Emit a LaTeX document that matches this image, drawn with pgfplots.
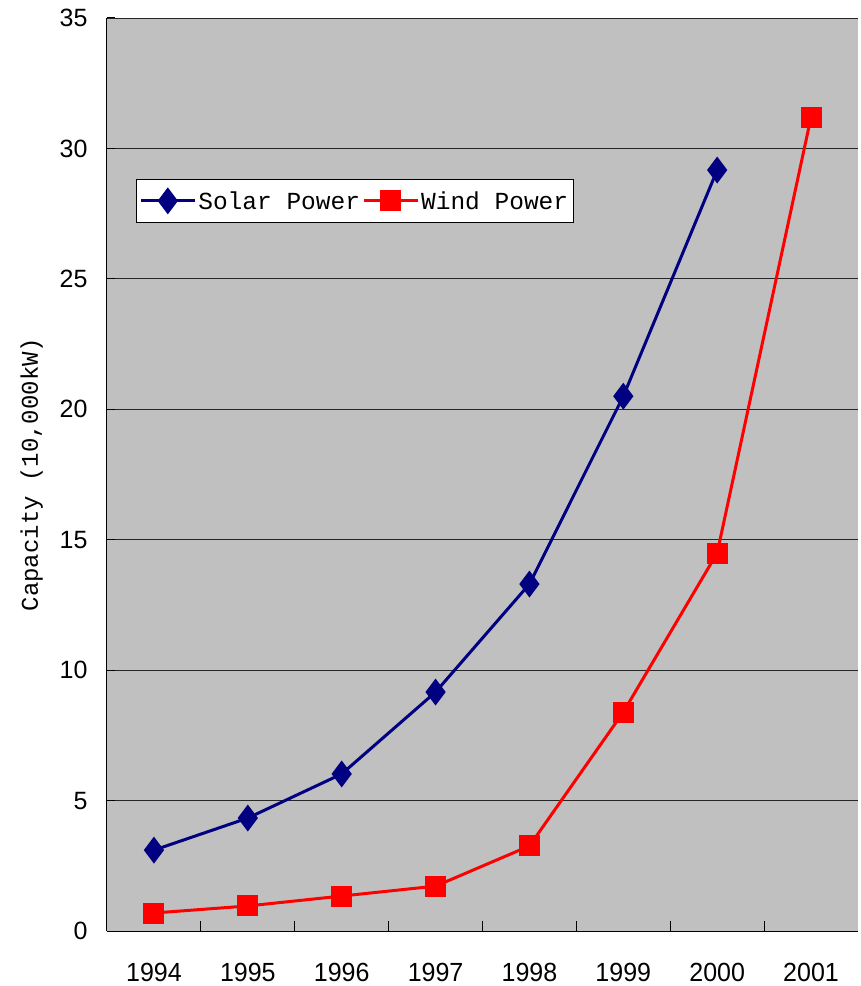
\documentclass[border=0pt]{standalone}
\usepackage{pgfplots}
\pgfplotsset{compat=1.18}
\usepackage{fontspec}
\setmainfont{Liberation Sans}
\newfontfamily\monofont{Liberation Mono}
\definecolor{solar}{RGB}{0,0,128}
\definecolor{wind}{RGB}{255,0,0}
\definecolor{plotbg}{RGB}{192,192,192}
\begin{document}
\begin{tikzpicture}
\useasboundingbox (-107pt,-55pt) rectangle (754pt,931pt);
\begin{axis}[
    at={(0,0)}, anchor=south west,
    scale only axis,
    width=751pt, height=913pt,
    axis background/.style={fill=plotbg},
    axis x line*=bottom, axis y line*=left,
    axis line style={line width=1pt},
    xmin=-0.5, xmax=7.5,
    ymin=0, ymax=35,
    xtick={0,...,7},
    xticklabels={1994,1995,1996,1997,1998,1999,2000,2001},
    major x tick style={draw=none},
    minor xtick={0.5,1.5,...,6.5},
    minor tick length=10pt,
    minor x tick style={line width=0.8pt, black},
    ytick={0,5,...,35},
    ymajorgrids,
    major grid style={line width=0.8pt, black!85},
    major tick length=8pt,
    tick align=inside,
    y tick style={line width=1pt, black},
    tick label style={font=\fontsize{25}{28}\selectfont},
    xticklabel style={yshift=-28pt, yscale=1.05},
    yticklabel style={xshift=-16pt},
    /pgf/number format/assume math mode=true,
    ylabel={\monofont Capacity (10,000kW)},
    ylabel style={font=\fontsize{24}{26}\selectfont, yshift=10pt},
    legend style={at={(0.0386,0.8237)}, anchor=north west,
        draw=black, fill=white, line width=0.6pt,
        font=\monofont\fontsize{24.5}{28}\selectfont,
        inner xsep=3pt, inner ysep=10pt,
        /tikz/every even column/.append style={column sep=0pt}},
    legend columns=2,
    legend image code/.code={
        \draw[#1, mark repeat=2, mark phase=2] plot coordinates {(0cm,0cm) (0.95cm,0cm) (1.9cm,0cm)};
    },
    clip=false,
]
\addplot[solar, line width=3pt, mark=diamond*, mark size=11pt,
    mark options={solid}]
    coordinates {(0,3.1) (1,4.33) (2,6.02) (3,9.16) (4,13.3) (5,20.5) (6,29.17)};
\addplot[wind, line width=3pt, mark=square*, mark size=9pt,
    mark options={solid}]
    coordinates {(0,0.69) (1,0.96) (2,1.34) (3,1.72) (4,3.26) (5,8.39) (6,14.49) (7,31.2)};
\legend{Solar Power,Wind Power}
\end{axis}
\end{tikzpicture}
\end{document}
